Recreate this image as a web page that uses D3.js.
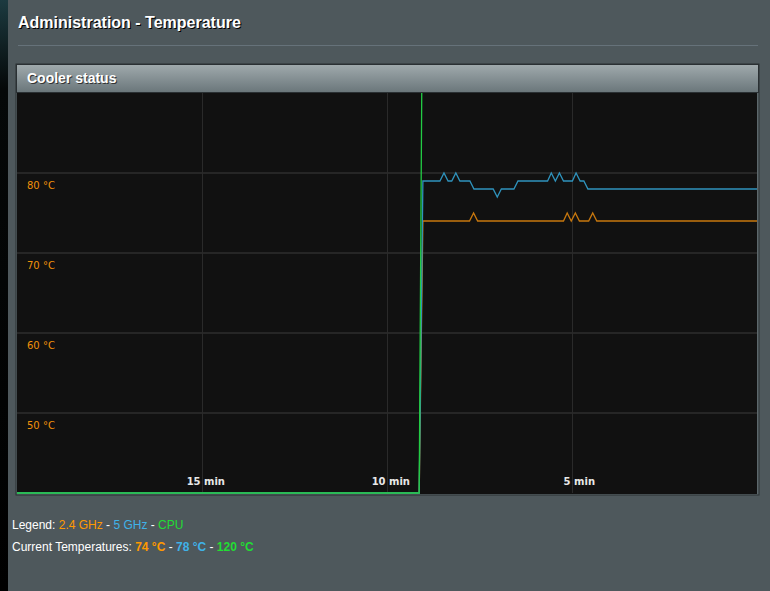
<!doctype html>
<html>
  <head>
    <meta charset="utf-8">
    <title>Administration - Temperature</title>
    <script src="https://cdnjs.cloudflare.com/ajax/libs/d3/7.8.5/d3.min.js"></script>
    <style>
      body { margin: 0; background: #4e585c; overflow: hidden; }
    </style>
  </head>
  <body>
    <div id="chart"></div>
    <script>
      // time axis runs from 20 min ago (left) to now (right)
      const xTicks = [15, 10, 5];
      const yTicks = [80, 70, 60, 50];

      // [minutes ago, °C]
      const band24 = [[20, 40], [9.13, 40], [9.03, 74], [7.77, 74], [7.66, 75], [7.55, 74],
        [5.23, 74], [5.13, 75], [5.02, 74], [4.91, 75], [4.80, 74], [4.55, 74],
        [4.44, 75], [4.33, 74], [0, 74]];
      const band5 = [[20, 40], [9.13, 40], [9.03, 79], [8.57, 79], [8.46, 80], [8.35, 79],
        [8.25, 79], [8.14, 80], [8.03, 79], [7.76, 79], [7.65, 78], [7.13, 78],
        [7.02, 77], [6.91, 78], [6.57, 78], [6.46, 79], [5.66, 79], [5.56, 80],
        [5.45, 79], [5.34, 80], [5.23, 79], [4.99, 79], [4.89, 80], [4.78, 79],
        [4.68, 79], [4.57, 78], [0, 78]];
      const cpu = [[20, 40], [9.13, 40], [9.02, 120], [0, 120]];

      const legendNames = ['2.4 GHz', '5 GHz', 'CPU'];
      const currentTemps = [74, 78, 120];

      const W = 770, H = 591;
      const plot = { left: 17, top: 93, width: 740, height: 400 };

      const svg = d3.select('#chart').append('svg')
        .attr('width', W).attr('height', H)
        .style('font-family', 'Liberation Sans, Arial, sans-serif');

      // dark strip on the left
      const grad = svg.append('defs').append('linearGradient')
        .attr('id', 'strip').attr('x1', 0).attr('y1', 0).attr('x2', 0).attr('y2', 1);
      grad.append('stop').attr('offset', 0).attr('stop-color', '#1c3a40');
      grad.append('stop').attr('offset', 0.15).attr('stop-color', '#050808');
      grad.append('stop').attr('offset', 1).attr('stop-color', '#000');
      svg.append('rect').attr('x', 0).attr('y', 0).attr('width', 8).attr('height', H)
        .attr('fill', 'url(#strip)');

      // title
      svg.append('text').attr('x', 19).attr('y', 29)
        .attr('font-size', 16).attr('font-weight', 'bold').attr('fill', '#000')
        .text('Administration - Temperature');
      svg.append('text').attr('x', 18).attr('y', 28)
        .attr('font-size', 16).attr('font-weight', 'bold').attr('fill', '#fff')
        .text('Administration - Temperature');
      svg.append('line').attr('x1', 18).attr('x2', 758).attr('y1', 45.5).attr('y2', 45.5)
        .attr('stroke', '#66727a').attr('stroke-width', 1);

      // panel header
      const hg = svg.select('defs').append('linearGradient')
        .attr('id', 'head').attr('x1', 0).attr('y1', 0).attr('x2', 0).attr('y2', 1);
      hg.append('stop').attr('offset', 0).attr('stop-color', '#a0aaad');
      hg.append('stop').attr('offset', 1).attr('stop-color', '#6a767a');
      svg.append('rect').attr('x', 16).attr('y', 64).attr('width', 743).attr('height', 431)
        .attr('fill', '#5d686c').attr('stroke', '#2a3033').attr('stroke-width', 1);
      svg.append('rect').attr('x', 16.5).attr('y', 64.5).attr('width', 742).attr('height', 28)
        .attr('fill', 'url(#head)').attr('stroke', '#2a3033').attr('stroke-width', 1);
      svg.append('text').attr('x', 28).attr('y', 84)
        .attr('font-size', 14).attr('font-weight', 'bold').attr('fill', '#333')
        .text('Cooler status');
      svg.append('text').attr('x', 27).attr('y', 83)
        .attr('font-size', 14).attr('font-weight', 'bold').attr('fill', '#fff')
        .text('Cooler status');

      const x = d3.scaleLinear().domain([20, 0]).range([plot.left, plot.left + plot.width]);
      const y = d3.scaleLinear().domain([40, 90]).range([plot.top + plot.height, plot.top]);

      const g = svg.append('g');
      g.append('rect').attr('x', plot.left).attr('y', plot.top)
        .attr('width', plot.width).attr('height', plot.height + 1).attr('fill', '#111');

      svg.select('defs').append('clipPath').attr('id', 'clip')
        .append('rect').attr('x', plot.left).attr('y', plot.top)
        .attr('width', plot.width).attr('height', plot.height + 1);

      // grid
      g.selectAll('.hgrid').data(yTicks).join('line')
        .attr('x1', plot.left).attr('x2', plot.left + plot.width)
        .attr('y1', d => y(d)).attr('y2', d => y(d))
        .attr('stroke', '#262626').attr('stroke-width', 2);
      g.selectAll('.vgrid').data(xTicks).join('line')
        .attr('x1', d => Math.round(x(d)) + 0.5).attr('x2', d => Math.round(x(d)) + 0.5)
        .attr('y1', plot.top).attr('y2', plot.top + plot.height)
        .attr('stroke', '#2a2a2a').attr('stroke-width', 1);

      // y labels under each grid line
      g.selectAll('.ylab').data(yTicks).join('text')
        .attr('x', 27).attr('y', d => y(d) + 16)
        .attr('font-family', 'DejaVu Sans, sans-serif').attr('font-size', 10)
        .attr('fill', '#f0900a')
        .text(d => d + ' °C');

      // x labels
      g.selectAll('.xlab').data(xTicks).join('text')
        .attr('x', d => x(d) + 23).attr('y', 485)
        .attr('text-anchor', 'end')
        .attr('font-family', 'DejaVu Sans, sans-serif').attr('font-size', 10)
        .attr('font-weight', 'bold').attr('fill', '#e8e8e8')
        .text(d => d + ' min');

      const line = d3.line().x(d => x(d[0])).y(d => y(d[1]));
      const lines = g.append('g').attr('clip-path', 'url(#clip)').attr('fill', 'none');
      lines.append('path').datum(band24).attr('d', line)
        .attr('stroke', '#c8780e').attr('stroke-width', 1.3);
      lines.append('path').datum(band5).attr('d', line)
        .attr('stroke', '#2f93bd').attr('stroke-width', 1.3);
      lines.append('path').datum(cpu).attr('d', line)
        .attr('stroke', '#22cc44').attr('stroke-width', 1.3);

      // legend
      const colors = ['#ff9900', '#3fb2e8', '#22dd33'];
      const leg = svg.append('text').attr('x', 12).attr('y', 529)
        .attr('font-size', 12).attr('fill', '#fff');
      leg.append('tspan').text('Legend: ');
      legendNames.forEach((n, i) => {
        if (i > 0) leg.append('tspan').attr('fill', '#fff').text(' - ');
        leg.append('tspan').attr('fill', colors[i]).text(n);
      });

      const cur = svg.append('text').attr('x', 12).attr('y', 551)
        .attr('font-size', 12).attr('fill', '#fff');
      cur.append('tspan').text('Current Temperatures: ');
      currentTemps.forEach((t, i) => {
        if (i > 0) cur.append('tspan').attr('fill', '#fff').text(' - ');
        cur.append('tspan').attr('fill', colors[i]).attr('font-weight', 'bold').text(t + ' °C');
      });
    </script>
  </body>
</html>
